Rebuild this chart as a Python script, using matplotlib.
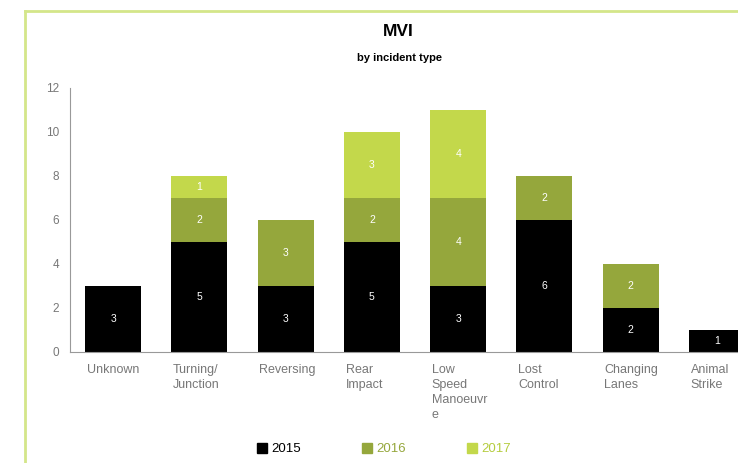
import matplotlib.pyplot as plt
import numpy as np
from matplotlib.patches import Patch
from matplotlib.lines import Line2D

plt.rcParams['font.family'] = ['Liberation Sans', 'DejaVu Sans']

categories = ["Unknown", "Turning/\nJunction", "Reversing", "Rear\nImpact",
              "Low\nSpeed\nManoeuvr\ne", "Lost\nControl", "Changing\nLanes", "Animal\nStrike"]
years = ["2015", "2016", "2017"]
v2015 = [3, 5, 3, 5, 3, 6, 2, 1]
v2016 = [0, 2, 3, 2, 4, 2, 2, 0]
v2017 = [0, 1, 0, 3, 4, 0, 0, 0]
colors = ["#000000", "#95a73c", "#c3d84b"]
text_colors = ["#000000", "#95a73c", "#b5cc3f"]

fig = plt.figure(figsize=(7.38, 4.63), dpi=100)
ax = fig.add_axes([70 / 738, 111 / 463, 690 / 738, 264 / 463])

x = np.arange(len(categories))
w = 0.65
bottom = np.zeros(len(categories))
for vals, col in zip([v2015, v2016, v2017], colors):
    vals = np.array(vals)
    ax.bar(x, vals, w, bottom=bottom, color=col, linewidth=0)
    for xi, b, v in zip(x, bottom, vals):
        if v > 0:
            ax.text(xi, b + v / 2, str(v), ha="center", va="center",
                    color="white", fontsize=7.5)
    bottom = bottom + vals

ax.set_xlim(-0.5, len(categories) - 0.5)
ax.set_ylim(0, 12)
ax.set_yticks(range(0, 13, 2))
ax.tick_params(axis="y", length=0, pad=8, labelcolor="#777777", labelsize=8.5)
ax.set_xticks([])
for xi, lab in zip(x, categories):
    ax.text(xi - w / 2 + 0.02, -0.55, lab, ha="left", va="top", color="#777777",
            fontsize=9, linespacing=1.32)
for s in ["top", "right"]:
    ax.spines[s].set_visible(False)
for s in ["left", "bottom"]:
    ax.spines[s].set_color("#999999")
    ax.spines[s].set_linewidth(0.8)

fig.text(0.539, 0.931, "MVI", ha="center", va="center", fontsize=12.5, fontweight="bold")
fig.text(0.542, 0.875, "by incident type", ha="center", va="center", fontsize=8, fontweight="bold")

handles = [Patch(facecolor=c, edgecolor=c) for c in colors]
leg = fig.legend(handles, years, loc="center", bbox_to_anchor=(0.52, 0.03), ncol=3,
                 frameon=False, fontsize=9.5, handlelength=0.8, handleheight=0.8,
                 handletextpad=0.3, columnspacing=4.6)
for t, c in zip(leg.get_texts(), text_colors):
    t.set_color(c)

# green frame at left/top
fig.add_artist(Line2D([25 / 738, 25 / 738], [0, 1 - 11 / 463], color="#d4e68a", lw=2))
fig.add_artist(Line2D([25 / 738, 1], [1 - 11 / 463, 1 - 11 / 463], color="#d4e68a", lw=2))

fig.savefig("out.png", dpi=100)
